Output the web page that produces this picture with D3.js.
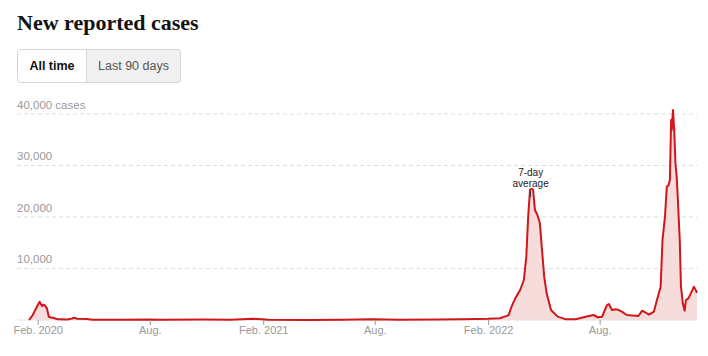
<!DOCTYPE html>
<html><head><meta charset="utf-8">
<script src="https://cdn.jsdelivr.net/npm/d3@7"></script>
<style>
body{margin:0;background:#fff;}
svg{display:block;}
</style></head>
<body>
<svg id="chart" width="708" height="356"></svg>
<script>
const dates = ["2020-01-18","2020-01-20","2020-01-24","2020-01-29","2020-02-04","2020-02-08","2020-02-10","2020-02-12","2020-02-14","2020-02-16","2020-02-19","2020-02-23","2020-02-26","2020-03-05","2020-03-20","2020-03-28","2020-03-31","2020-04-05","2020-04-20","2020-05-01","2020-06-15","2020-07-27","2020-08-20","2020-10-26","2020-12-10","2021-01-15","2021-02-10","2021-04-15","2021-06-10","2021-07-28","2021-09-10","2021-11-10","2021-12-20","2022-01-10","2022-02-01","2022-02-20","2022-03-01","2022-03-06","2022-03-11","2022-03-17","2022-03-25","2022-03-31","2022-04-04","2022-04-07","2022-04-10","2022-04-12","2022-04-13","2022-04-15","2022-04-18","2022-04-22","2022-04-26","2022-04-29","2022-05-03","2022-05-07","2022-05-14","2022-05-25","2022-06-07","2022-06-23","2022-07-06","2022-07-22","2022-07-29","2022-08-05","2022-08-13","2022-08-16","2022-08-21","2022-08-27","2022-09-01","2022-09-06","2022-09-14","2022-09-28","2022-10-03","2022-10-09","2022-10-13","2022-10-20","2022-10-28","2022-11-02","2022-11-08","2022-11-11","2022-11-15","2022-11-17","2022-11-18","2022-11-21","2022-11-23","2022-11-25","2022-11-26","2022-11-28","2022-11-30","2022-12-02","2022-12-04","2022-12-06","2022-12-09","2022-12-11","2022-12-14","2022-12-17","2022-12-19","2022-12-23","2022-12-27","2023-01-01","2023-01-04","2023-01-06"];
const cases = [0,300,970,2200,3550,2700,3000,2900,2600,2270,640,500,450,130,80,300,450,250,200,60,30,120,30,80,30,250,40,20,30,150,60,90,150,200,250,350,700,900,2580,4200,5830,7770,12300,20060,25240,25600,25500,25240,21360,20390,18770,14240,8410,5180,1940,650,130,130,520,970,520,650,2910,3100,1940,2070,1940,1620,970,840,780,1810,1550,1040,1620,3880,6470,15530,20060,23940,25880,26200,27180,38830,36890,40780,36890,30430,27830,23300,15530,6470,3240,1810,3880,4210,5180,6470,5800,5300];
const tickDates = ["2020-02-01","2020-08-01","2021-02-01","2021-08-01","2022-02-01","2022-08-01"];
const tickLabels = ["Feb. 2020","Aug.","Feb. 2021","Aug.","Feb. 2022","Aug."];
const yTicks = [10000,20000,30000,40000];
const yTickLabels = ["10,000","20,000","30,000","40,000 cases"];
const title = "New reported cases";
const buttons = ["All time","Last 90 days"];
const annotation = {date:"2022-04-11", lines:["7-day","average"]};

const parse = d3.timeParse("%Y-%m-%d");
const data = dates.map((d,i)=>({date:parse(d), v:cases[i]}));

const svg = d3.select("#chart");
const sans = "'Liberation Sans', Arial, sans-serif";

svg.append("text").attr("x",17).attr("y",30)
  .attr("font-family","'Liberation Serif', 'DejaVu Serif', serif")
  .attr("font-weight","bold").attr("font-size",22).attr("fill","#121212")
  .text(title);

// buttons
const bx=17.5, by=49.5, bh=33, bw1=69, bw2=94;
svg.append("rect").attr("x",bx+bw1).attr("y",by).attr("width",bw2).attr("height",bh).attr("fill","#f0f0f0");
svg.append("rect").attr("x",bx).attr("y",by).attr("width",bw1+bw2).attr("height",bh).attr("rx",3)
  .attr("fill","none").attr("stroke","#d5d5d5");
svg.append("line").attr("x1",bx+bw1).attr("x2",bx+bw1).attr("y1",by).attr("y2",by+bh).attr("stroke","#d5d5d5");
svg.append("text").attr("x",bx+bw1/2).attr("y",70).attr("text-anchor","middle")
  .attr("font-family",sans).attr("font-weight","bold").attr("font-size",12.5).attr("fill","#121212").text(buttons[0]);
svg.append("text").attr("x",bx+bw1+bw2/2).attr("y",70).attr("text-anchor","middle")
  .attr("font-family",sans).attr("font-size",12.5).attr("fill","#555").text(buttons[1]);

const x = d3.scaleTime().domain([parse("2020-01-01"), parse("2023-01-06")]).range([18.6, 697]);
const y = d3.scaleLinear().domain([0,40000]).range([320,114]);

// gridlines
const g = svg.append("g");
yTicks.forEach((t,i)=>{
  g.append("line").attr("x1",17).attr("x2",697).attr("y1",y(t)).attr("y2",y(t))
    .attr("stroke","#ddd").attr("stroke-dasharray","4,3");
  g.append("text").attr("x",17).attr("y",y(t)-5.5).attr("font-family",sans).attr("font-size",11.5)
    .attr("fill","#999").text(yTickLabels[i]);
});

// area & line
svg.append("path").datum(data)
  .attr("d", d3.area().x(d=>x(d.date)).y0(y(0)).y1(d=>y(d.v)))
  .attr("fill","#f7dcdc");
svg.append("line").attr("x1",17).attr("x2",697).attr("y1",y(0)).attr("y2",y(0)).attr("stroke","#e2e2e2");
svg.append("path").datum(data)
  .attr("d", d3.line().x(d=>x(d.date)).y(d=>y(d.v)))
  .attr("fill","none").attr("stroke","#d0161b").attr("stroke-width",2).attr("stroke-linejoin","round");

// x axis
const xa = svg.append("g").attr("transform",`translate(0,${y(0)})`)
  .call(d3.axisBottom(x).tickValues(tickDates.map(parse)).tickSize(5)
    .tickFormat((d,i)=>tickLabels[i]));
xa.select(".domain").remove();
xa.selectAll("line").attr("stroke","#999");
xa.selectAll("text").attr("font-family",sans).attr("font-size",11).attr("fill","#999").attr("dy","0.55em");

// annotation
const ad = parse(annotation.date);
const ax = x(ad);
const peak = d3.max(data.filter(d=>Math.abs(d.date-ad)<4*864e5), d=>d.v);
svg.append("line").attr("x1",ax).attr("x2",ax).attr("y1",y(peak)+3).attr("y2",y(peak)+9).attr("stroke","#333").attr("stroke-width",1);
annotation.lines.forEach((l,i)=>{
  svg.append("text").attr("x",ax).attr("y",y(peak)-12+i*10.5).attr("text-anchor","middle")
    .attr("font-family",sans).attr("font-size",10).attr("fill","#222")
    .attr("stroke","#fff").attr("stroke-width",2.5).attr("paint-order","stroke").text(l);
});
</script>
</body></html>
